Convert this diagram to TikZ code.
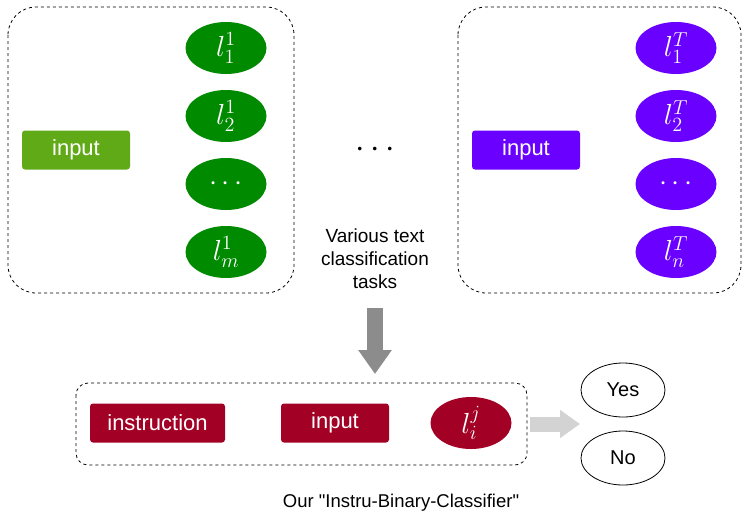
\documentclass[tikz,border=0pt]{standalone}
\usepackage{fontspec}
\setmainfont{Liberation Sans}
\newfontfamily\capfont{Liberation Sans}[Ligatures=TeXOff]
\usetikzlibrary{arrows.meta,shapes.geometric}
\definecolor{lgreen}{HTML}{60A917}
\definecolor{dgreen}{HTML}{008A00}
\definecolor{purp}{HTML}{6A00FF}
\definecolor{dred}{HTML}{A20025}
\definecolor{garrow}{HTML}{8C8C8C}
\definecolor{larrow}{HTML}{D3D3D3}
\newcommand{\lblmath}[1]{\scalebox{1.4}{$#1$}}
\tikzset{
  grp/.style={draw=black, dashed, rounded corners=28pt, line width=0.8pt},
  inbox/.style={rounded corners=3pt, minimum width=108pt, minimum height=39pt, text=white, font=\fontsize{22}{26}\selectfont, inner sep=0pt},
  lab/.style={ellipse, minimum width=81pt, minimum height=52pt, text=white, inner sep=0pt, font=\fontsize{20.74}{24}\selectfont},
  ans/.style={ellipse, draw=black, line width=0.8pt, minimum width=84pt, minimum height=54pt, inner sep=0pt, font=\fontsize{20}{24}\selectfont},
}
\begin{document}
\begin{tikzpicture}[x=1pt,y=-1pt]
\useasboundingbox (0,0) rectangle (743,514);
% left group
\draw[grp] (8,7) rectangle (294,293);
\node[inbox, fill=lgreen] (in1) at (76,150) {input};
\node[lab, fill=dgreen] (a1) at (226,48) {\lblmath{l_1^1}};
\node[lab, fill=dgreen] (a2) at (226,116) {\lblmath{l_2^1}};
\node[lab, fill=dgreen] (a3) at (226,184) {\lblmath{\cdots}};
\node[lab, fill=dgreen] (a4) at (226,252) {\lblmath{l_m^1}};
% right group
\draw[grp] (458,7) rectangle (741,293);
\node[inbox, fill=purp] (in2) at (526,150) {input};
\node[lab, fill=purp] (b1) at (676,48) {\lblmath{l_1^T}};
\node[lab, fill=purp] (b2) at (676,116) {\lblmath{l_2^T}};
\node[lab, fill=purp] (b3) at (676,184) {\lblmath{\cdots}};
\node[lab, fill=purp] (b4) at (676,252) {\lblmath{l_n^T}};
% middle
\node[inner sep=0pt] (dots) at (375,150) {\scalebox{3.4}{$\cdots$}};
\node[align=center, font=\fontsize{19}{23}\selectfont] (tasks) at (375,259) {Various text\\classification\\tasks};
% bottom group
\draw[grp, rounded corners=12pt] (76,383) rectangle (527,465);
\node[inbox, fill=dred, minimum width=135pt] (instr) at (157.5,423) {instruction};
\node[inbox, fill=dred] (in3) at (335,423) {input};
\node[lab, fill=dred] (lij) at (471,423) {\lblmath{l_i^j}};
\node[ans] (yes) at (623,390) {Yes};
\node[ans] (no) at (623,458) {No};
\node[font=\capfont\fontsize{18.5}{22}\selectfont] (cap) at (401,503) {Our "Instru-Binary-Classifier"};
% arrows
\coordinate (dA) at (375,308);
\coordinate (dB) at (375,374);
\draw[garrow, line width=16pt, -{Triangle[width=32pt,length=24pt]}] (dA) -- (dB);
\coordinate (rA) at (530,424);
\coordinate (rB) at (580,424);
\draw[larrow, line width=15pt, -{Triangle[width=27pt,length=20pt]}] (rA) -- (rB);
\end{tikzpicture}
\end{document}
